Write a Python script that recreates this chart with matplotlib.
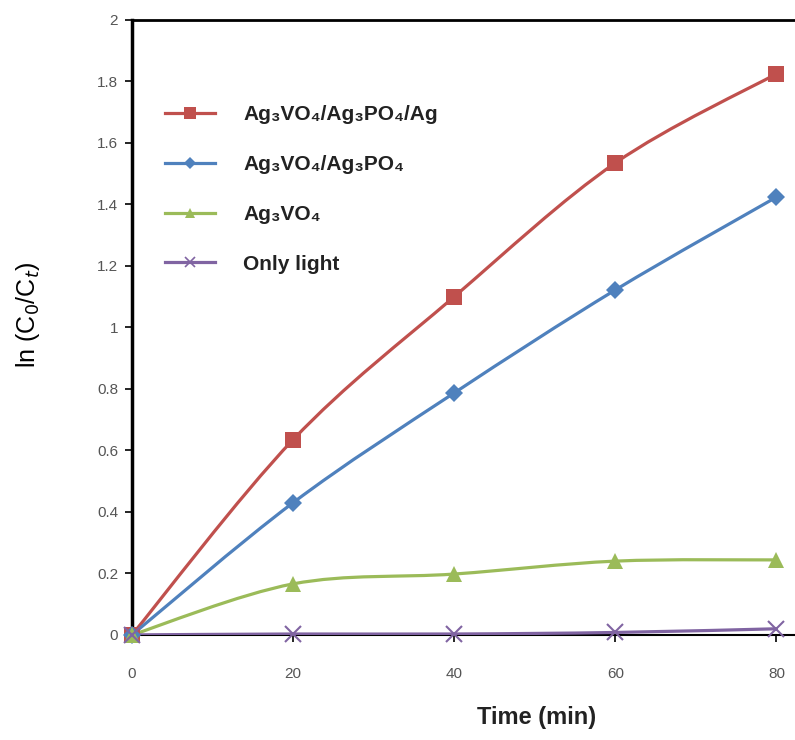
import numpy as np
import matplotlib
matplotlib.use('Agg')
import matplotlib.pyplot as plt
from matplotlib.path import Path
from matplotlib.patches import PathPatch
from matplotlib.lines import Line2D

plt.rcParams['font.family'] = ['Liberation Sans', 'DejaVu Sans']

# Data
time_min = [0, 20, 40, 60, 80]
ln_ag3vo4_ag3po4_ag = [0, 0.635, 1.10, 1.535, 1.825]
ln_ag3vo4_ag3po4 = [0, 0.43, 0.787, 1.122, 1.424]
ln_ag3vo4 = [0, 0.166, 0.198, 0.24, 0.244]
ln_only_light = [0, 0.003, 0.003, 0.008, 0.02]

labels = ['Ag\u2083VO\u2084/Ag\u2083PO\u2084/Ag', 'Ag\u2083VO\u2084/Ag\u2083PO\u2084',
          'Ag\u2083VO\u2084', 'Only light']
colors = ['#C0504D', '#4F81BD', '#9BBB59', '#8064A2']
markers = ['s', 'D', '^', 'x']
msizes = [12, 9, 11, 11]


def smooth_path(x, y):
    # Excel style smoothed line (Catmull-Rom as cubic Bezier)
    pts = np.column_stack([x, y]).astype(float)
    n = len(pts)
    verts = [pts[0]]
    codes = [Path.MOVETO]
    for i in range(n - 1):
        p0 = pts[i - 1] if i > 0 else pts[i]
        p1 = pts[i]
        p2 = pts[i + 1]
        p3 = pts[i + 2] if i + 2 < n else pts[i + 1]
        c1 = p1 + (p2 - p0) / 6.0
        c2 = p2 - (p3 - p1) / 6.0
        verts += [c1, c2, p2]
        codes += [Path.CURVE4] * 3
    return Path(verts, codes)


fig = plt.figure(figsize=(7.95, 7.4), dpi=100)
ax = fig.add_axes([0.166, 0.142, 0.834, 0.831])

series = [ln_ag3vo4_ag3po4_ag, ln_ag3vo4_ag3po4, ln_ag3vo4, ln_only_light]
handles = []
for vals, col, mk, ms, lab in zip(series, colors, markers, msizes, labels):
    patch = PathPatch(smooth_path(time_min, vals), facecolor='none',
                      edgecolor=col, lw=2.3, zorder=3)
    ax.add_patch(patch)
    if mk == 'x':
        ax.plot(time_min, vals, ls='none', marker=mk, ms=ms, mew=1.5,
                color=col, zorder=4, clip_on=False)
    else:
        ax.plot(time_min, vals, ls='none', marker=mk, ms=ms, mew=0,
                color=col, zorder=4, clip_on=False)
    handles.append(Line2D([], [], color=col, lw=2.3, marker=mk,
                          ms=ms * 0.7, mew=1.2 if mk == 'x' else 0))

ax.set_xlim(0, 82.3)
ax.set_ylim(0, 2)
ax.set_xticks([0, 20, 40, 60, 80])
ax.set_yticks(np.arange(0, 2.01, 0.2))
ax.set_yticklabels(['0', '0.2', '0.4', '0.6', '0.8', '1', '1.2', '1.4',
                    '1.6', '1.8', '2'])

ax.spines['right'].set_visible(False)
ax.spines['left'].set_linewidth(2.5)
ax.spines['top'].set_linewidth(2)
ax.spines['bottom'].set_linewidth(1.5)
for s in ax.spines.values():
    s.set_color('black')

ax.tick_params(axis='y', direction='out', length=5, width=1.2,
               labelsize=11, labelcolor='#555555', pad=5)
ax.tick_params(axis='x', direction='out', length=5, width=1.2,
               labelsize=11, labelcolor='#555555', pad=18)

ax.set_ylabel('ln (C$_0$/C$_t$)', fontsize=18)
ax.yaxis.set_label_coords(-0.135, 0.52)
ax.set_xlabel('Time (min)', fontsize=17, fontweight='bold', color='#222222')
ax.xaxis.set_label_coords(0.61, -0.115)

leg = ax.legend(handles, labels, loc='upper left',
                bbox_to_anchor=(0.022, 0.892), frameon=False,
                handlelength=2.4, labelspacing=1.48, handletextpad=1.35,
                prop={'size': 15, 'weight': 'bold'})
for t in leg.get_texts():
    t.set_color('#222222')

fig.savefig('out.png', dpi=100)
